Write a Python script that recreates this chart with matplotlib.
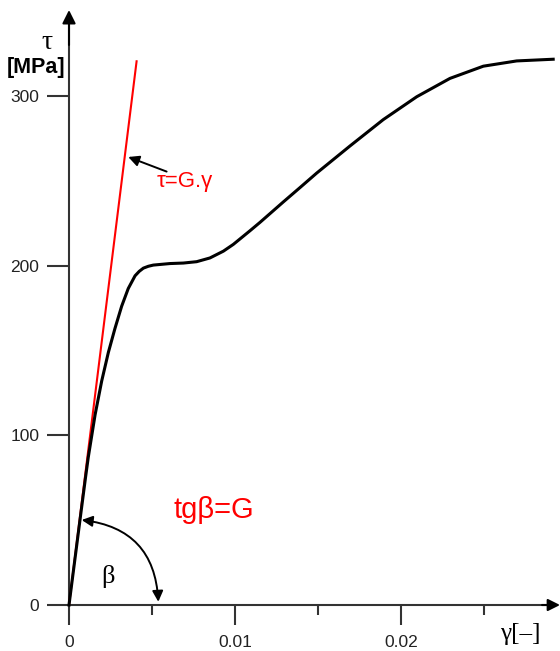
import matplotlib
matplotlib.use("Agg")
import matplotlib.pyplot as plt

# ---- data ----
gamma_curve = [0, 0.00033, 0.00066, 0.0010, 0.00116, 0.00157, 0.00197, 0.00237,
               0.00277, 0.00317, 0.00357, 0.00398, 0.00423, 0.00448, 0.00478,
               0.00508, 0.00608, 0.00689, 0.00769, 0.00849, 0.0093, 0.0099,
               0.0109, 0.01151, 0.01291, 0.01392, 0.01492, 0.01693, 0.01893,
               0.02095, 0.02295, 0.02496, 0.02697, 0.02917]
tau_curve = [0, 25, 50, 75.5, 87, 112, 132, 148.8,
             163, 176, 186.5, 194, 196.6, 198.5, 199.6,
             200.3, 201.2, 201.5, 202.3, 204.5, 208.5, 212.5,
             220.5, 225.5, 237.5, 246, 254.5, 270.5, 286,
             299.5, 310.3, 317.5, 320.6, 321.6]

gamma_elastic = [0, 0.00408]
tau_elastic = [0, 321]

x_major = [0, 0.01, 0.02]
x_major_labels = ["0", "0.01", "0.02"]
x_minor = [0.005, 0.015, 0.025]
y_major = [0, 100, 200, 300]
y_major_labels = ["0", "100", "200", "300"]

AX = "#333333"
SANS = ["Liberation Sans", "DejaVu Sans"]
SERIF = ["Liberation Serif", "DejaVu Serif"]

fig = plt.figure(figsize=(5.6, 6.51), dpi=100)
ax = fig.add_axes([0, 0, 1, 1])
ax.set_xlim(-0.004157, 0.02958)
ax.set_ylim(-27.1, 356.5)

# spines as axes through the origin
for s in ["top", "right"]:
    ax.spines[s].set_visible(False)
ax.spines["left"].set_position(("data", 0))
ax.spines["bottom"].set_position(("data", 0))
ax.spines["left"].set_bounds(0, 345)
ax.spines["bottom"].set_bounds(0, 0.0293)
for s in ["left", "bottom"]:
    ax.spines[s].set_color(AX)
    ax.spines[s].set_linewidth(1.5)

# arrow heads of the axes
ax.annotate("", xy=(0, 350.6), xytext=(0, 330),
            arrowprops=dict(arrowstyle="-|>", color="black", lw=1.5,
                            mutation_scale=20, shrinkA=0, shrinkB=0))
ax.annotate("", xy=(0.02958, 0), xytext=(0.0285, 0),
            arrowprops=dict(arrowstyle="-|>", color="black", lw=1.5,
                            mutation_scale=18, shrinkA=0, shrinkB=0))

ax.set_xticks(x_major)
ax.set_xticklabels(x_major_labels, fontfamily=SANS, fontsize=12.5, color="#222222")
ax.set_xticks(x_minor, minor=True)
ax.set_yticks(y_major)
ax.set_yticklabels(y_major_labels, fontfamily=SANS, fontsize=12.5, color="#222222")
ax.tick_params(axis="x", which="major", direction="out", length=14.5, width=1.5,
               color=AX, pad=7)
ax.tick_params(axis="x", which="minor", direction="out", length=7.2, width=1.5,
               color=AX)
ax.tick_params(axis="y", which="major", direction="out", length=15.5, width=1.5,
               color=AX, pad=6)

# data
ax.plot(gamma_elastic, tau_elastic, color="#ff0000", lw=1.5, zorder=3,
        solid_capstyle="butt")
ax.plot(gamma_curve, tau_curve, color="black", lw=2.2, zorder=4,
        solid_joinstyle="round")

# annotations
ax.annotate("", xy=(0.00357, 264), xytext=(0.00588, 255.4),
            arrowprops=dict(arrowstyle="-|>", color="black", lw=1.4,
                            mutation_scale=16, shrinkA=0, shrinkB=0))
ax.text(0.00699, 249.3, "τ=G.γ", color="#ff0000", fontsize=16,
        fontfamily=SANS, ha="center", va="center")
ax.text(0.00875, 56, "tgβ=G", color="#ff0000", fontsize=21,
        fontfamily=SANS, ha="center", va="center")
ax.annotate("", xy=(0.000765, 50.1), xytext=(0.00538, 1.9),
            arrowprops=dict(arrowstyle="<|-|>", color="black", lw=1.4,
                            mutation_scale=16, shrinkA=0, shrinkB=0,
                            connectionstyle="arc3,rad=0.42"))
ax.text(0.00237, 16.7, "β", fontsize=19, fontfamily=SERIF,
        ha="center", va="center")

# axis labels
ax.text(-0.00133, 331.5, "τ", fontsize=20, fontfamily=SERIF,
        ha="center", va="center")
ax.text(-0.00199, 316.5, "[MPa]", fontsize=15.5, fontweight="bold",
        fontfamily=SANS, ha="center", va="center")
ax.text(0.02717, -17.1, "γ[–]", fontsize=18, fontfamily=SERIF,
        ha="center", va="center")

fig.savefig("out.png", dpi=100)
